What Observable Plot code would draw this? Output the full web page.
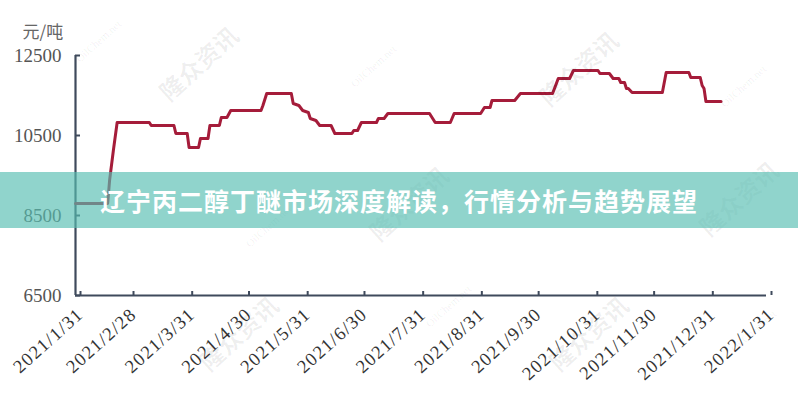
<!DOCTYPE html>
<html>
<head>
<meta charset="utf-8">
<script src="https://cdn.jsdelivr.net/npm/d3@7"></script>
<script src="https://cdn.jsdelivr.net/npm/@observablehq/plot@0.6"></script>
<style>
html, body { margin: 0; padding: 0; background: #fff; }
#wrap { position: relative; width: 798px; height: 400px; overflow: hidden; }
#banner { position: absolute; left: 0; top: 172px; width: 798px; height: 56px;
  background: rgba(86,189,178,0.66); display: flex; align-items: center; justify-content: center;
  color: #fff; font: bold 25px "Noto Sans CJK SC", sans-serif; letter-spacing: 1px; }
.wm { position: absolute; color: rgba(0,0,0,0.065); transform: rotate(-42deg); white-space: nowrap; pointer-events: none; }
.wm.cn { font: bold 24px "Noto Sans CJK SC", sans-serif; }
.wm.en { font: 11px "Liberation Serif", serif; }
g[aria-label="x-axis tick label"] text { letter-spacing: 1.3px; }
</style>
</head>
<body>
<div id="wrap"><div id="chart"></div></div>
<script>
// ---- data ----
const dates = [
  "2021-01-31","2021-02-17","2021-02-18","2021-02-20","2021-02-22","2021-03-11","2021-03-12","2021-03-24",
  "2021-03-25","2021-03-31","2021-04-01","2021-04-06","2021-04-07","2021-04-11","2021-04-12","2021-04-17",
  "2021-04-18","2021-04-21","2021-04-23","2021-05-09","2021-05-10","2021-05-12","2021-05-25","2021-05-26",
  "2021-05-29","2021-05-31","2021-06-03","2021-06-04","2021-06-07","2021-06-09","2021-06-15","2021-06-17",
  "2021-06-26","2021-06-27","2021-06-29","2021-07-01","2021-07-09","2021-07-10","2021-07-13","2021-07-15",
  "2021-08-06","2021-08-09","2021-08-17","2021-08-19","2021-09-02","2021-09-04","2021-09-07","2021-09-08",
  "2021-09-20","2021-09-23","2021-10-10","2021-10-13","2021-10-19","2021-10-21","2021-11-03","2021-11-04",
  "2021-11-09","2021-11-11","2021-11-14","2021-11-15","2021-11-17","2021-11-18","2021-11-19","2021-11-21",
  "2021-12-07","2021-12-09","2021-12-21","2021-12-22","2021-12-27","2021-12-28","2021-12-29","2021-12-30",
  "2022-01-07"
];
const prices = [
  8800, 8800, 9375, 10125, 10825, 10825, 10750, 10750,
  10550, 10550, 10200, 10200, 10425, 10425, 10750, 10750,
  10950, 10950, 11125, 11125, 11250, 11550, 11550, 11300,
  11250, 11125, 11075, 10925, 10875, 10750, 10750, 10550,
  10550, 10625, 10625, 10825, 10825, 10925, 10925, 11050,
  11050, 10825, 10825, 11050, 11050, 11200, 11200, 11375,
  11375, 11550, 11550, 11925, 11925, 12125, 12125, 12050,
  12050, 11925, 11925, 11825, 11825, 11675, 11675, 11575,
  11575, 12075, 12075, 11950, 11950, 11750, 11675, 11350,
  11350
];
const xTickDates = ["2021-01-31","2021-02-28","2021-03-31","2021-04-30","2021-05-31","2021-06-30",
  "2021-07-31","2021-08-31","2021-09-30","2021-10-31","2021-11-30","2021-12-31","2022-01-31"];
const yTicks = [6500, 8500, 10500, 12500];
const unitLabel = "元/吨";
const titleText = "辽宁丙二醇丁醚市场深度解读，行情分析与趋势展望";

// ---- build ----
const data = dates.map((d, i) => ({date: new Date(d), price: prices[i]}));
const xTicks = xTickDates.map(d => new Date(d));
const fmt = d => `${d.getUTCFullYear()}/${d.getUTCMonth() + 1}/${d.getUTCDate()}`;
const axisColor = "#3f4a5c";

const chart = Plot.plot({
  width: 798,
  height: 400,
  marginLeft: 75,
  marginRight: 32,
  marginTop: 55,
  marginBottom: 105,
  style: {background: "transparent"},
  x: {type: "utc", domain: [xTicks[0], xTicks[xTicks.length - 1]], label: null},
  y: {domain: [6500, 12500], label: null},
  marks: [
    Plot.ruleX([xTicks[0]], {stroke: axisColor, strokeWidth: 2.2}),
    Plot.ruleY([6500], {stroke: axisColor, strokeWidth: 2.2}),
    Plot.axisY(yTicks, {tickSize: -5, tickPadding: 19, stroke: axisColor, strokeWidth: 2, fill: "#555",
      fontSize: 19, fontFamily: "Liberation Serif, serif", tickFormat: d => String(d), label: null}),
    Plot.axisX(xTicks, {tickSize: -4, tickPadding: 20, tickRotate: -42, stroke: axisColor, strokeWidth: 2,
      fill: "#333", fontSize: 18.5, fontFamily: "Liberation Serif, serif", tickFormat: fmt, dx: 5, label: null}),
    Plot.line(data, {x: "date", y: "price", stroke: "#a51c3a", strokeWidth: 3, curve: "linear"}),
    Plot.text([unitLabel], {frameAnchor: "top-left", dx: -53, dy: -30, textAnchor: "start",
      fill: "#666", fontSize: 17, fontFamily: "Noto Sans CJK SC, sans-serif"})
  ]
});
document.getElementById("chart").appendChild(chart);

const wrap = document.getElementById("wrap");
const wms = [
  ["cn", "隆众资讯", 150, 45], ["cn", "隆众资讯", 530, 50], ["cn", "隆众资讯", 190, 315],
  ["cn", "隆众资讯", 540, 315], ["cn", "隆众资讯", 690, 180], ["cn", "隆众资讯", 360, 185],
  ["en", "OilChem.net", 70, 35], ["en", "OilChem.net", 345, 60], ["en", "OilChem.net", 715, 80],
  ["en", "OilChem.net", 420, 300], ["en", "OilChem.net", 725, 325], ["en", "OilChem.net", 240, 220]
];
for (const [cls, t, x, y] of wms) {
  const el = document.createElement("div");
  el.className = "wm " + cls;
  el.textContent = t;
  el.style.left = x + "px";
  el.style.top = y + "px";
  wrap.appendChild(el);
}
const banner = document.createElement("div");
banner.id = "banner";
banner.textContent = titleText;
wrap.appendChild(banner);
</script>
</body>
</html>
